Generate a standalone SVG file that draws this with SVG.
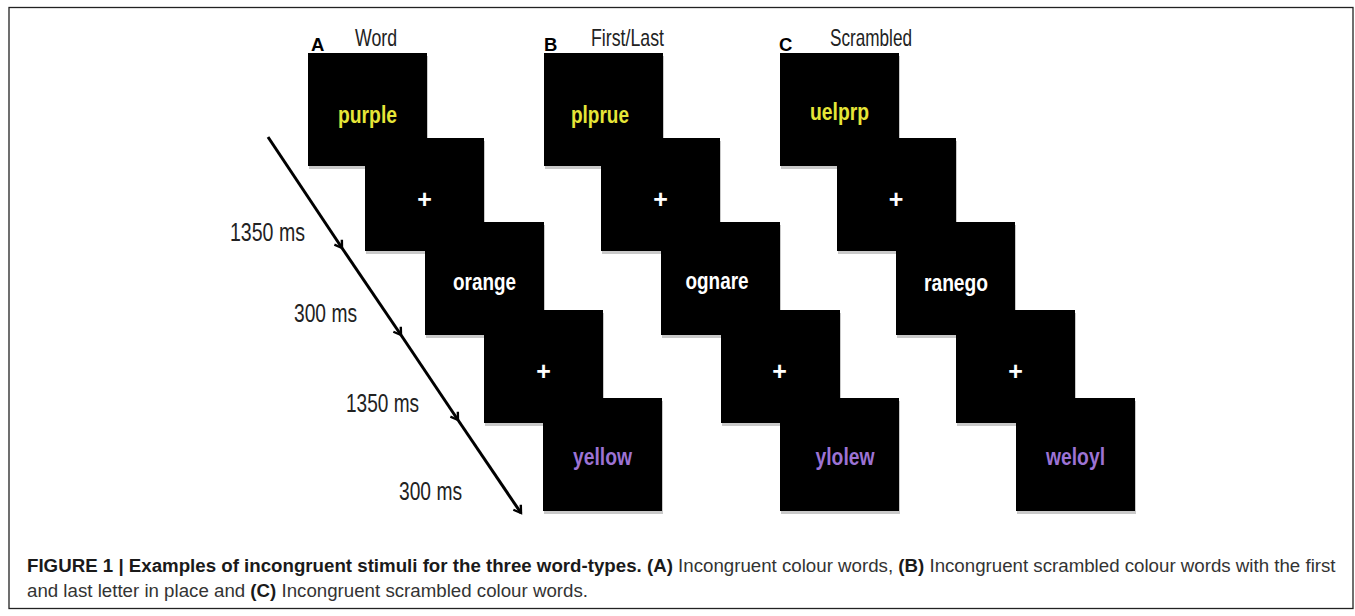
<svg xmlns="http://www.w3.org/2000/svg" width="1355" height="616" viewBox="0 0 1355 616">
<defs>
<style>
.frame{fill:#fff;stroke:#222;stroke-width:1.3}
.box{fill:#000}
.sh{fill:#c9c9c9}
.w{font-family:"Liberation Sans",Arial,sans-serif;font-weight:bold;font-size:23px;text-anchor:middle}
.yel{fill:#e6e638}
.pur{fill:#9c73d4}
.wht{fill:#fff}
.plus{font-family:"Liberation Sans",Arial,sans-serif;font-weight:bold;font-size:25px;fill:#fff;text-anchor:middle}
.ttl{font-family:"Liberation Sans",Arial,sans-serif;font-size:24px;fill:#222}
.let{font-family:"Liberation Sans",Arial,sans-serif;font-weight:bold;font-size:18.5px;fill:#000}
.tm{font-family:"Liberation Sans",Arial,sans-serif;font-size:25px;fill:#222}
.cap{font-family:"Liberation Sans",Arial,sans-serif;font-size:18.7px;fill:#333}
.b{font-weight:bold;fill:#1a1a1a}
.arr{stroke:#000;stroke-width:3;fill:none}
</style>
<marker id="ah" markerWidth="14" markerHeight="14" refX="10" refY="6" orient="auto" markerUnits="userSpaceOnUse">
<path d="M3,1.5 L10,6 L3,10.5" fill="none" stroke="#000" stroke-width="2.4"/>
</marker>
</defs>
<rect class="frame" x="9" y="7.5" width="1344" height="601"/>

<g id="labels">
<text class="let" x="311" y="51">A</text>
<text class="ttl" x="355" y="46" textLength="42" lengthAdjust="spacingAndGlyphs">Word</text>
<text class="let" x="544" y="51">B</text>
<text class="ttl" x="591" y="46" textLength="73" lengthAdjust="spacingAndGlyphs">First/Last</text>
<text class="let" x="779" y="51">C</text>
<text class="ttl" x="830" y="46" textLength="82" lengthAdjust="spacingAndGlyphs">Scrambled</text>
</g>

<g id="connectors">
<path class="arr" d="M268,137 L342,248" marker-end="url(#ah)"/>
<path class="arr" d="M342,248 L401,335" marker-end="url(#ah)"/>
<path class="arr" d="M401,335 L458,420" marker-end="url(#ah)"/>
<path class="arr" d="M458,420 L521,513" marker-end="url(#ah)"/>
</g>

<g id="times">
<text class="tm" x="230" y="241" textLength="75" lengthAdjust="spacingAndGlyphs">1350 ms</text>
<text class="tm" x="294" y="322" textLength="63" lengthAdjust="spacingAndGlyphs">300 ms</text>
<text class="tm" x="346" y="412" textLength="73" lengthAdjust="spacingAndGlyphs">1350 ms</text>
<text class="tm" x="399" y="500" textLength="63" lengthAdjust="spacingAndGlyphs">300 ms</text>
</g>

<g id="A1"><rect class="sh" x="309" y="56" width="119" height="113"/><rect class="box" x="308" y="53" width="119" height="113"/><text class="w yel" x="367.5" y="123" textLength="59" lengthAdjust="spacingAndGlyphs">purple</text></g>
<g id="A2"><rect class="sh" x="366" y="141" width="119" height="113"/><rect class="box" x="365" y="138" width="119" height="113"/><text class="plus" x="424.5" y="208">+</text></g>
<g id="A3"><rect class="sh" x="426" y="225" width="119" height="113"/><rect class="box" x="425" y="222" width="119" height="113"/><text class="w wht" x="484.5" y="290" textLength="63" lengthAdjust="spacingAndGlyphs">orange</text></g>
<g id="A4"><rect class="sh" x="485" y="313" width="119" height="113"/><rect class="box" x="484" y="310" width="119" height="113"/><text class="plus" x="543.5" y="380">+</text></g>
<g id="A5"><rect class="sh" x="544" y="401" width="119" height="113"/><rect class="box" x="543" y="398" width="119" height="113"/><text class="w pur" x="602.5" y="465" textLength="59" lengthAdjust="spacingAndGlyphs">yellow</text></g>

<g id="B1"><rect class="sh" x="545" y="56" width="119" height="113"/><rect class="box" x="544" y="53" width="119" height="113"/><text class="w yel" x="600" y="123" textLength="58" lengthAdjust="spacingAndGlyphs">plprue</text></g>
<g id="B2"><rect class="sh" x="602" y="141" width="119" height="113"/><rect class="box" x="601" y="138" width="119" height="113"/><text class="plus" x="660.5" y="208">+</text></g>
<g id="B3"><rect class="sh" x="662" y="225" width="119" height="113"/><rect class="box" x="661" y="222" width="119" height="113"/><text class="w wht" x="717" y="289" textLength="63" lengthAdjust="spacingAndGlyphs">ognare</text></g>
<g id="B4"><rect class="sh" x="722" y="313" width="119" height="113"/><rect class="box" x="721" y="310" width="119" height="113"/><text class="plus" x="779.5" y="380">+</text></g>
<g id="B5"><rect class="sh" x="781" y="401" width="119" height="113"/><rect class="box" x="780" y="398" width="119" height="113"/><text class="w pur" x="845" y="465" textLength="59" lengthAdjust="spacingAndGlyphs">ylolew</text></g>

<g id="C1"><rect class="sh" x="781" y="56" width="119" height="113"/><rect class="box" x="780" y="53" width="119" height="113"/><text class="w yel" x="839.5" y="120" textLength="59" lengthAdjust="spacingAndGlyphs">uelprp</text></g>
<g id="C2"><rect class="sh" x="838" y="141" width="119" height="113"/><rect class="box" x="837" y="138" width="119" height="113"/><text class="plus" x="896" y="208">+</text></g>
<g id="C3"><rect class="sh" x="897" y="225" width="119" height="113"/><rect class="box" x="896" y="222" width="119" height="113"/><text class="w wht" x="956" y="291" textLength="64" lengthAdjust="spacingAndGlyphs">ranego</text></g>
<g id="C4"><rect class="sh" x="957" y="313" width="119" height="113"/><rect class="box" x="956" y="310" width="119" height="113"/><text class="plus" x="1015.5" y="380">+</text></g>
<g id="C5"><rect class="sh" x="1017" y="401" width="119" height="113"/><rect class="box" x="1016" y="398" width="119" height="113"/><text class="w pur" x="1075.5" y="465" textLength="59" lengthAdjust="spacingAndGlyphs">weloyl</text></g>

<g id="caption">
<text class="cap" x="27" y="572"><tspan class="b">FIGURE 1 | Examples of incongruent stimuli for the three word-types. (A)</tspan> Incongruent colour words, <tspan class="b">(B)</tspan> Incongruent scrambled colour words with the first</text>
<text class="cap" x="27" y="597">and last letter in place and <tspan class="b">(C)</tspan> Incongruent scrambled colour words.</text>
</g>
</svg>
